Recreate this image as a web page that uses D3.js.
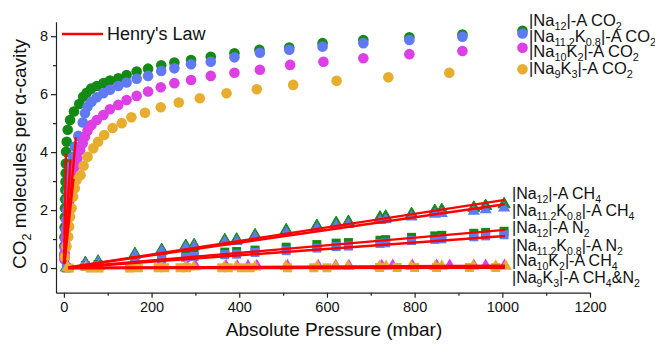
<!DOCTYPE html>
<html>
<head>
<meta charset="utf-8">
<script src="https://cdn.jsdelivr.net/npm/d3@7"></script>
<style>
  html, body { margin: 0; padding: 0; background: #fff; }
  svg { display: block; font-family: "Liberation Sans", Arial, sans-serif; }
</style>
</head>
<body>
<svg id="chart" width="655" height="344"></svg>
<script>
// ---- CO2 isotherms (pressure in mbar, molecules per alpha-cavity) ----
const pCO2_Na12 = [0.5, 0.9, 1.3, 1.7, 2.1, 2.5, 2.9, 3.3, 3.7, 4.1, 4.5, 5.0, 6.4, 8.7, 14, 23, 35, 44, 52, 62, 75, 90, 105, 124, 143, 166, 192, 222, 252, 290, 335, 389, 446, 514, 590, 683, 788, 909];
const vCO2_Na12 = [0.45, 0.76, 1.06, 1.41, 1.75, 2.06, 2.37, 2.69, 2.98, 3.27, 3.61, 4.01, 4.36, 4.77, 5.11, 5.40, 5.66, 5.91, 6.05, 6.19, 6.28, 6.38, 6.47, 6.55, 6.66, 6.78, 6.88, 7.00, 7.09, 7.18, 7.29, 7.41, 7.53, 7.61, 7.76, 7.87, 7.96, 8.06];

const pCO2_Na112 = [1.2, 2.2, 3.2, 4.3, 5.5, 7, 8.5, 10, 12, 14, 16, 21, 25, 33, 43, 48, 54, 63, 75, 90, 105, 124, 143, 166, 192, 222, 252, 290, 335, 389, 447, 514, 590, 683, 788, 909];
const vCO2_Na112 = [0.40, 0.70, 1.00, 1.30, 1.65, 2.00, 2.35, 2.65, 2.95, 3.21, 3.50, 3.84, 4.19, 4.56, 5.02, 5.34, 5.57, 5.74, 5.89, 6.03, 6.15, 6.28, 6.40, 6.53, 6.63, 6.80, 6.89, 7.03, 7.12, 7.27, 7.43, 7.53, 7.64, 7.76, 7.87, 7.98];

const pCO2_Na10 = [1, 2, 3.5, 5, 6.5, 8, 10, 12, 15, 18, 22, 25, 30.6, 37, 43, 48, 54, 63, 75, 90, 105, 124, 143, 166, 192, 221, 252, 290, 335, 389, 447, 516, 592, 683, 788, 909];
const vCO2_Na10 = [0.30, 0.50, 0.80, 1.10, 1.40, 1.70, 2.00, 2.30, 2.60, 2.90, 3.20, 3.50, 3.79, 4.07, 4.31, 4.53, 4.74, 4.94, 5.11, 5.28, 5.48, 5.63, 5.80, 5.94, 6.09, 6.24, 6.38, 6.49, 6.63, 6.74, 6.84, 7.01, 7.12, 7.24, 7.38, 7.49];

const pCO2_Na9 = [2, 6, 10, 12, 14, 17.5, 21, 25, 29, 38, 45, 54, 67, 78, 92, 111, 132, 154, 185, 221, 262, 310, 371, 440, 523, 622, 740, 879];
const vCO2_Na9 = [0.39, 0.74, 1.08, 1.43, 1.77, 2.06, 2.46, 2.75, 3.04, 3.21, 3.53, 3.84, 4.13, 4.36, 4.59, 4.83, 5.00, 5.20, 5.36, 5.55, 5.71, 5.86, 6.03, 6.17, 6.32, 6.46, 6.58, 6.74];

// ---- CH4 / N2 isotherms ----
const pGas = [6, 49, 78, 162, 223, 278, 297, 367, 394, 436, 507, 577, 621, 649, 721, 734, 793, 846, 862, 935, 962, 1004];
const vCH4_Na12  = [0.02, 0.17, 0.22, 0.48, 0.62, 0.76, 0.79, 0.96, 0.98, 1.13, 1.30, 1.45, 1.55, 1.59, 1.74, 1.77, 1.86, 1.97, 2.00, 2.08, 2.14, 2.20];
const vCH4_Na112 = [0.01, 0.14, 0.19, 0.44, 0.58, 0.71, 0.74, 0.90, 0.92, 1.07, 1.23, 1.37, 1.46, 1.50, 1.64, 1.67, 1.76, 1.86, 1.88, 1.96, 2.01, 2.07];
const vN2_Na12   = [0.01, 0.08, 0.12, 0.26, 0.36, 0.45, 0.48, 0.55, 0.57, 0.62, 0.72, 0.81, 0.86, 0.88, 0.96, 0.98, 1.06, 1.11, 1.13, 1.20, 1.23, 1.27];
const vN2_Na112  = [0.01, 0.06, 0.09, 0.20, 0.29, 0.37, 0.40, 0.46, 0.48, 0.54, 0.60, 0.69, 0.74, 0.76, 0.85, 0.87, 0.95, 0.99, 1.01, 1.08, 1.11, 1.15];

const pCH4_Na10 = [10, 52, 80, 160, 225, 280, 300, 370, 395, 420, 440, 510, 580, 620, 650, 725, 750, 795, 850, 880, 935, 962, 1005];
const vCH4_Na10 = [0.04, 0.05, 0.05, 0.06, 0.06, 0.07, 0.07, 0.07, 0.07, 0.07, 0.08, 0.08, 0.08, 0.08, 0.08, 0.08, 0.09, 0.09, 0.09, 0.09, 0.09, 0.09, 0.09];
const pCH4_Na9 = [8, 50, 78, 160, 222, 278, 296, 366, 393, 436, 506, 578, 620, 648, 720, 735, 792, 847, 862, 934, 985, 1008];
const vCH4_Na9 = [0.02, 0.03, 0.03, 0.03, 0.04, 0.04, 0.04, 0.04, 0.04, 0.04, 0.05, 0.05, 0.05, 0.05, 0.05, 0.05, 0.05, 0.05, 0.06, 0.06, 0.06, 0.06];
const pN2_Na9 = [12, 60, 80, 150, 170, 215, 230, 265, 280, 360, 375, 405, 425, 510, 570, 600, 720, 760, 800, 850, 925, 985];
const vN2_Na9 = [0.00, 0.00, 0.00, 0.00, 0.01, 0.01, 0.01, 0.01, 0.01, 0.01, 0.01, 0.01, 0.01, 0.01, 0.01, 0.01, 0.02, 0.02, 0.02, 0.02, 0.02, 0.02];

// ---- Henry's law fits: slope (per mbar) and pressure range drawn ----
const henryK     = [0.82, 0.25, 0.164, 0.14, 0.00234, 0.00219, 0.00131, 0.00110, 0.00008, 0.00004, 0.00001];
const henryStart = [0.2, 0.6, 1, 1, 10, 10, 10, 10, 10, 10, 10];
const henryEnd   = [4.8, 15, 27.5, 22, 1006, 1006, 1006, 1006, 1006, 1006, 1006];

// ---- axes ----
const xTicks = [0, 200, 400, 600, 800, 1000, 1200];
const xMinor = [100, 300, 500, 700, 900, 1100];
const yTicks = [0, 2, 4, 6, 8];
const yMinor = [1, 3, 5, 7];

// ---- legend labels ----
const co2Labels = ["|Na_{12}|-A CO_{2}", "|Na_{11.2}K_{0.8}|-A CO_{2}", "|Na_{10}K_{2}|-A CO_{2}", "|Na_{9}K_{3}|-A CO_{2}"];
const gasLabels = ["|Na_{12}|-A CH_{4}", "|Na_{11.2}K_{0.8}|-A CH_{4}", "|Na_{12}|-A N_{2}", "|Na_{11.2}K_{0.8}|-A N_{2}", "|Na_{10}K_{2}|-A CH_{4}", "|Na_{9}K_{3}|-A CH_{4}&N_{2}"];

const C = { green: "#138a13", blue: "#5f7af2", magenta: "#dd3ee6", orange: "#e7ad2e", red: "#ff0000", ink: "#111" };

const svg = d3.select("#chart");
const x = d3.scaleLinear().domain([-18, 1200]).range([56, 590]);
const y = d3.scaleLinear().domain([-0.85, 8.5]).range([292.7, 21.7]);

// axes
svg.append("g").attr("transform", "translate(0,292.7)")
  .call(d3.axisBottom(x).tickValues(xTicks).tickSize(5).tickSizeOuter(0).tickPadding(4).tickFormat(d3.format("d")));
svg.append("g").attr("transform", "translate(0,292.7)")
  .call(d3.axisBottom(x).tickValues(xMinor).tickSize(3).tickFormat("")).select(".domain").remove();
svg.append("g").attr("transform", "translate(56,0)")
  .call(d3.axisLeft(y).tickValues(yTicks).tickSize(5).tickSizeOuter(0).tickPadding(3));
svg.append("g").attr("transform", "translate(56,0)")
  .call(d3.axisLeft(y).tickValues(yMinor).tickSize(3).tickFormat("")).select(".domain").remove();
svg.selectAll(".domain, .tick line").attr("stroke", "#222").attr("stroke-width", 1.2);
svg.selectAll(".tick text").attr("font-size", 14.5).attr("fill", C.ink)
  .attr("font-family", "Liberation Sans, Arial, sans-serif");

// text with _{...} subscripts
function richText(sel, str, size) {
  const parts = str.split(/(_\{[^}]*\})/).filter(s => s.length);
  const shift = size * 0.26;
  let lowered = false;
  parts.forEach(s => {
    if (s.startsWith("_{")) {
      sel.append("tspan").attr("font-size", size * 0.66).attr("dy", shift).text(s.slice(2, -1));
      lowered = true;
    } else {
      sel.append("tspan").attr("font-size", size).attr("dy", lowered ? -shift : 0).text(s);
      lowered = false;
    }
  });
  sel.attr("font-size", size);
}

// axis titles
const yt = svg.append("text").attr("transform", "translate(26,154) rotate(-90)")
  .attr("text-anchor", "middle").attr("fill", C.ink);
richText(yt, "CO_{2} molecules per \u03B1-cavity", 19);
svg.append("text").attr("x", 334).attr("y", 336).attr("text-anchor", "middle")
  .attr("font-size", 19).attr("fill", C.ink).text("Absolute Pressure (mbar)");

// marks
const plot = svg.append("g");
function circles(px, py, color) {
  plot.append("g").selectAll("circle").data(px.map((p, i) => [p, py[i]])).join("circle")
    .attr("cx", d => x(d[0])).attr("cy", d => y(d[1])).attr("r", 5.3).attr("fill", color);
}
const tri = d3.symbol().type(d3.symbolTriangle).size(64);
function triangles(px, py, color, stroke) {
  plot.append("g").selectAll("path").data(px.map((p, i) => [p, py[i]])).join("path")
    .attr("d", tri).attr("transform", d => `translate(${x(d[0])},${y(d[1])})`)
    .attr("fill", color).attr("stroke", stroke || "none").attr("stroke-width", 1);
}
function squares(px, py, color) {
  plot.append("g").selectAll("rect").data(px.map((p, i) => [p, py[i]])).join("rect")
    .attr("x", d => x(d[0]) - 4.5).attr("y", d => y(d[1]) - 4.5)
    .attr("width", 9).attr("height", 9).attr("fill", color);
}

circles(pCO2_Na12, vCO2_Na12, C.green);
circles(pCO2_Na112, vCO2_Na112, C.blue);
circles(pCO2_Na10, vCO2_Na10, C.magenta);
circles(pCO2_Na9, vCO2_Na9, C.orange);

triangles(pGas, vCH4_Na12, C.green, C.green);
triangles(pGas, vCH4_Na112, C.blue);
squares(pGas, vN2_Na12, C.green);
squares(pGas, vN2_Na112, C.blue);
triangles(pCH4_Na10, vCH4_Na10, C.magenta);
triangles(pCH4_Na9, vCH4_Na9, C.orange);
squares(pN2_Na9, vN2_Na9, C.orange);

// Henry's law lines
const line = d3.line().x(d => x(d[0])).y(d => y(d[1]));
plot.append("g").selectAll("path")
  .data(henryK.map((k, i) => [[henryStart[i], k * henryStart[i]], [henryEnd[i], k * henryEnd[i]]]))
  .join("path").attr("d", line).attr("fill", "none").attr("stroke", C.red).attr("stroke-width", 2.4);

// legend: Henry's law
svg.append("line").attr("x1", 62).attr("x2", 103).attr("y1", 34).attr("y2", 34)
  .attr("stroke", C.red).attr("stroke-width", 2.4);
svg.append("text").attr("x", 107).attr("y", 40).attr("font-size", 18).attr("fill", C.ink).text("Henry's Law");

// legend: CO2 series
const co2Colors = [C.green, C.blue, C.magenta, C.orange];
const co2SymY = [30.7, 33.5, 47.7, 69.3];
const co2TextY = [26, 42, 57, 74];
co2Labels.forEach((lab, i) => {
  svg.append("circle").attr("cx", 522.5).attr("cy", co2SymY[i]).attr("r", 5.3).attr("fill", co2Colors[i]);
  richText(svg.append("text").attr("x", 529).attr("y", co2TextY[i]).attr("fill", C.ink), lab, 16.5);
});

// legend: CH4 / N2 series
const gasTextY = [199, 215.5, 233, 250.5, 266, 282.5];
gasLabels.forEach((lab, i) => {
  richText(svg.append("text").attr("x", 512).attr("y", gasTextY[i]).attr("fill", C.ink), lab, 16);
});
</script>
</body>
</html>
